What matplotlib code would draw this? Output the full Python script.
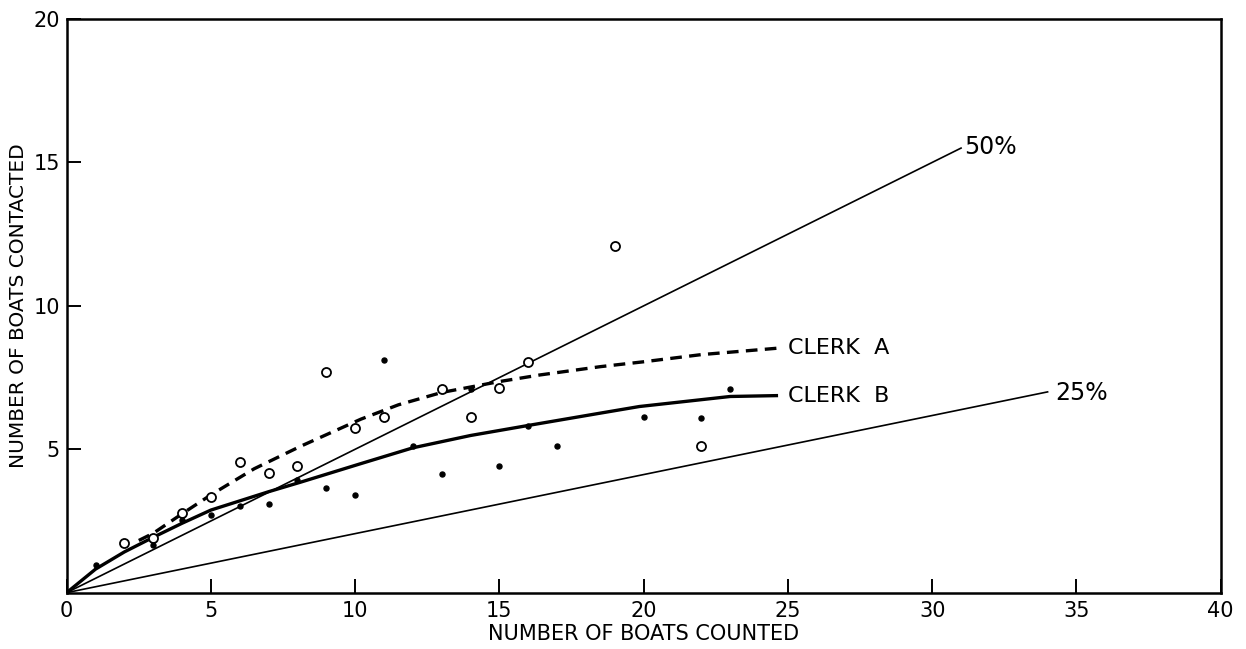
import numpy as np
import matplotlib
matplotlib.use("Agg")
from matplotlib import pyplot as plt

# boats counted vs boats contacted
clerk_a_x = [2, 3, 4, 5, 6, 7, 8, 9, 10, 11, 13, 14, 15, 16, 19, 22]
clerk_a_y = [1.74, 1.9, 2.79, 3.33, 4.57, 4.17, 4.41, 7.68, 5.75, 6.13,
             7.1, 6.11, 7.14, 8.03, 12.07, 5.12]

clerk_b_x = [1, 3, 4, 5, 6, 7, 8, 9, 10, 11, 12, 13, 14, 15, 16, 17, 20, 22, 23]
clerk_b_y = [0.97, 1.66, 2.54, 2.71, 3.02, 3.09, 3.94, 3.65, 3.42, 8.1,
             5.13, 4.12, 7.1, 4.43, 5.8, 5.13, 6.12, 6.08, 7.1]

# hand drawn fitted curves (estimated along the drawn lines)
curve_a_x = [2.5, 3, 4, 5, 6.5, 8.1, 10.2, 11.5, 13, 15, 16.4, 18.5, 20, 22, 24.6]
curve_a_y = [1.82, 2.07, 2.75, 3.41, 4.32, 5.1, 6.05, 6.55, 6.98, 7.36, 7.59, 7.88, 8.05, 8.3, 8.52]
curve_b_x = [0, 1, 2, 3, 4, 5, 7, 8.1, 10.2, 12, 14, 16, 18.5, 19.85, 23, 24.6]
curve_b_y = [0, 0.82, 1.42, 1.93, 2.42, 2.88, 3.52, 3.85, 4.5, 5.05, 5.48, 5.83, 6.26, 6.49, 6.84, 6.87]

# reference lines
line50_x = [0, 31]
line50_y = [0, 15.5]
line25_x = [0, 34]
line25_y = [0, 7.0]

xticks = [0, 5, 10, 15, 20, 25, 30, 35, 40]
yticks = [5, 10, 15, 20]

fig = plt.figure(figsize=(12.46, 6.49), dpi=100)
ax = fig.add_axes([0.0535, 0.0868, 0.9262, 0.8839])

ax.plot(line50_x, line50_y, color='k', lw=1.2)
ax.plot(line25_x, line25_y, color='k', lw=1.2)
ax.plot(curve_a_x, curve_a_y, color='k', lw=2.4, ls=(0, (3.5, 2.2)))
ax.plot(curve_b_x, curve_b_y, color='k', lw=2.4)

ax.plot(clerk_a_x, clerk_a_y, 'o', mfc='white', mec='k', ms=6.5, mew=1.3)
ax.plot(clerk_b_x, clerk_b_y, 'o', color='k', ms=3.6)

txt = dict(fontsize=16, va='center', ha='left')
ax.text(25.0, 8.52, 'CLERK  A', **txt)
ax.text(25.0, 6.87, 'CLERK  B', **txt)
ax.text(31.1, 15.55, '50%', fontsize=17, va='center', ha='left')
ax.text(34.25, 6.97, '25%', fontsize=17, va='center', ha='left')

ax.set_xlim(0, 40)
ax.set_ylim(0, 20)
ax.set_xticks(xticks)
ax.set_yticks(yticks)
ax.tick_params(direction='in', length=10, width=1.4, labelsize=15, pad=6)
ax.tick_params(axis='y', pad=5)
for s in ax.spines.values():
    s.set_linewidth(1.8)

ax.set_xlabel('NUMBER OF BOATS COUNTED', fontsize=15, labelpad=2)
ax.set_ylabel('NUMBER OF BOATS CONTACTED', fontsize=14.5, labelpad=4)

fig.savefig('out.png', dpi=100)
